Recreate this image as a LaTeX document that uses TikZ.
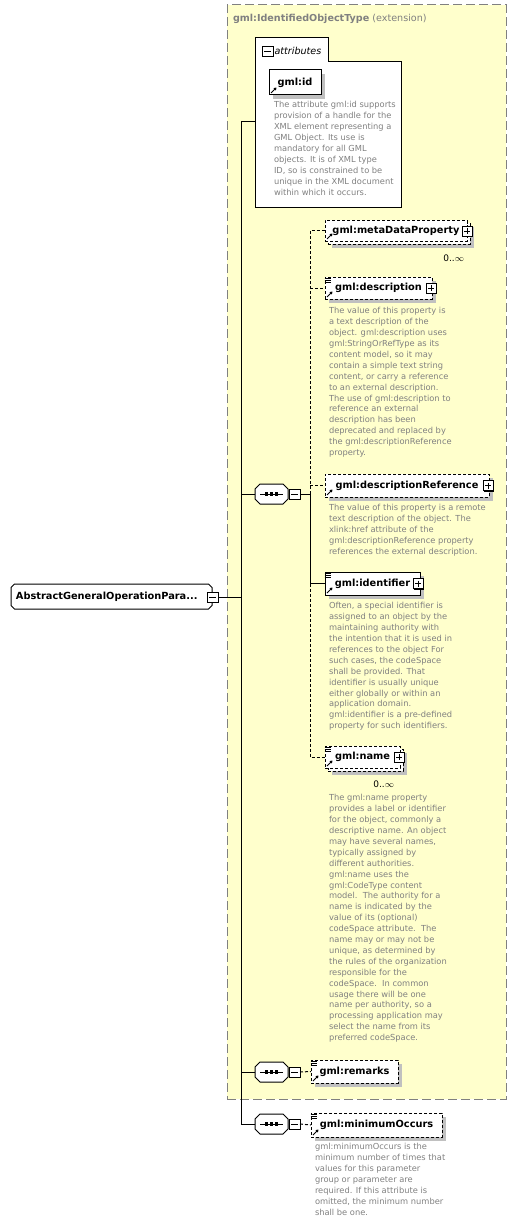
\documentclass[tikz,border=0pt]{standalone}
\usepackage{fontspec}
\setmainfont{DejaVu Sans}
\usetikzlibrary{shadows,arrows.meta}
\definecolor{extfill}{RGB}{255,255,204}
\definecolor{extline}{RGB}{128,128,128}
\definecolor{desctext}{RGB}{128,128,128}
\definecolor{shadowgray}{RGB}{192,192,192}
\newcommand\RefArrow[1]{\draw[line width=0.9pt,-{Triangle[length=2.6pt,width=3.2pt]}] ([shift={(2,-2)}]#1.south west) -- ([shift={(7.5,-7.5)}]#1.south west);}
\newcommand\EqIcon[1]{\foreach \d in {1.5,3.5,5.5}{\draw[line width=0.7pt] ([shift={(-0.5,\d)}]#1.north west) -- ([shift={(6,\d)}]#1.north west);}}
\newcommand\OctoPath[2]{([shift={(#2,0)}]#1.north west) -- ([shift={(-#2,0)}]#1.north east) -- ([shift={(0,#2)}]#1.north east) -- ([shift={(0,-#2)}]#1.south east) -- ([shift={(-#2,0)}]#1.south east) -- ([shift={(#2,0)}]#1.south west) -- ([shift={(0,-#2)}]#1.south west) -- ([shift={(0,#2)}]#1.north west) -- cycle}
\newcommand\OctoShape[2]{%
  \begin{scope}[shift={(4,4)}]\fill[shadowgray] \OctoPath{#1}{#2};\end{scope}
  \draw[fill=white] \OctoPath{#1}{#2};}
\newcommand\SeqInner[1]{%
  \draw ([xshift=-11.5pt]#1.center) -- ([xshift=11.5pt]#1.center);
  \foreach \d in {-5,0,5}{\fill ([xshift=\d pt]#1.center) +(-1.6,-1.6) rectangle +(1.6,1.6);}}
\begin{document}
\begin{tikzpicture}[x=1pt,y=-1pt,line width=1pt,
  every node/.style={inner sep=0pt,outer sep=0pt},
  shd/.style={drop shadow={shadow xshift=4pt,shadow yshift=-4pt,fill=shadowgray,opacity=1}},
  lbl/.style={font=\fontsize{9.8}{12}\selectfont\bfseries},
  elem/.style={draw,fill=white,rectangle,anchor=north west,lbl},
  optl/.style={dash pattern=on 3pt off 2pt},
  desc/.style={anchor=north west,align=left,text=desctext,font=\fontsize{8.3}{10.9}\selectfont},
  occ/.style={font=\fontsize{9}{11}\selectfont},
  pbox/.style={draw,fill=white,minimum width=10pt,minimum height=10pt,line width=0.9pt,
    drop shadow={shadow xshift=1.2pt,shadow yshift=-1.2pt,fill=black,opacity=1},
    path picture={\draw[line width=0.9pt] ([xshift=2pt]path picture bounding box.west) -- ([xshift=-2pt]path picture bounding box.east)
      ([yshift=-2pt]path picture bounding box.north) -- ([yshift=2pt]path picture bounding box.south);}},
  mbox/.style={draw,fill=white,minimum width=11pt,minimum height=10pt,line width=0.9pt,
    drop shadow={shadow xshift=1.2pt,shadow yshift=-1.2pt,fill=black,opacity=1},
    path picture={\draw[line width=0.9pt] ([xshift=2pt]path picture bounding box.west) -- ([xshift=-2pt]path picture bounding box.east);}},
  seqbox/.style={rectangle,minimum width=33pt,minimum height=20pt}
]
\useasboundingbox (0,0) rectangle (517,1225);

% extension container
\node[draw=extline,dash pattern=on 9pt off 4pt,fill=extfill,anchor=north west,minimum width=279pt,minimum height=1094pt] (ext) at (227,5) {};
\node[anchor=west,text=extline,font=\fontsize{9.6}{12}\selectfont] (exttitle) at (233,19) {\textbf{gml:IdentifiedObjectType} (extension)};

% attributes box
\draw[fill=white] (255,38) -- (328,38) -- (328,62) -- (401,62) -- (401,207) -- (255,207) -- cycle;
\node[anchor=north west,minimum width=146pt,minimum height=169pt] (attr) at (255,38) {};
\node[mbox,drop shadow={opacity=0}] (attrm) at (267.5,51) {};
\node[anchor=west,font=\fontsize{9.6}{12}\selectfont\itshape] (attrlbl) at (274.5,51) {attributes};
\node[elem,shd,minimum width=52pt,minimum height=25pt] (gid) at (269,70) {gml:id};
\RefArrow{gid}
\node[desc] (giddesc) at (274,101.5) {The attribute gml:id supports\\provision of a handle for the\\XML element representing a\\GML Object. Its use is\\mandatory for all GML\\objects. It is of XML type\\ID, so is constrained to be\\unique in the XML document\\within which it occurs.};

% root element
\node[rectangle,anchor=north west,minimum width=201pt,minimum height=25pt] (root) at (11,584) {};
\OctoShape{root}{3.5}
\node[anchor=west,lbl] (rootlbl) at ([xshift=5pt]root.west) {AbstractGeneralOperationPara...};
\node[mbox] (rootm) at (212.5,597) {};

% spine
\coordinate (spTop) at (241,122);
\coordinate (spBot) at (241,1124);
\draw (spTop) -- (spBot);
\draw (spTop) -- (spTop -| attr.west);
\draw (rootm.east) -- (rootm.east -| spTop);

% sequence 1
\node[seqbox] (seq1) at (271.5,494) {};
\OctoShape{seq1}{5}
\SeqInner{seq1}
\node[mbox] (seq1m) at (294.5,494) {};
\draw (seq1.west) -- (seq1.west -| spTop);
\coordinate (br) at (310,494);

% metaDataProperty
\node[elem,optl,shd,minimum width=142pt,minimum height=21pt] (metaback) at (328,223) {};
\node[elem,optl,minimum width=142pt,minimum height=21pt] (meta) at (325,220) {gml:metaDataProperty};
\RefArrow{meta}
\node[pbox] (metap) at (467,231) {};
\node[occ,anchor=east] (metaocc) at (464,258) {0..$\infty$};

% description
\node[elem,optl,shd,minimum width=107pt,minimum height=22pt] (descr) at (325,277) {gml:description};
\EqIcon{descr}
\RefArrow{descr}
\node[pbox] (descrp) at (431,288) {};
\node[desc] (descrdesc) at (329,307.5) {The value of this property is\\a text description of the\\object. gml:description uses\\gml:StringOrRefType as its\\content model, so it may\\contain a simple text string\\content, or carry a reference\\to an external description.\\The use of gml:description to\\reference an external\\description has been\\deprecated and replaced by\\the gml:descriptionReference\\property.};

% descriptionReference
\node[elem,optl,shd,minimum width=164pt,minimum height=23pt] (dref) at (325,474) {gml:descriptionReference};
\RefArrow{dref}
\node[pbox] (drefp) at (488,485.5) {};
\node[desc] (drefdesc) at (329,504.5) {The value of this property is a remote\\text description of the object. The\\xlink:href attribute of the\\gml:descriptionReference property\\references the external description.};

% identifier
\node[elem,shd,minimum width=95pt,minimum height=23pt] (ident) at (325,572) {gml:identifier};
\EqIcon{ident}
\RefArrow{ident}
\node[pbox] (identp) at (418,583.5) {};
\node[desc] (identdesc) at (329,602.5) {Often, a special identifier is\\assigned to an object by the\\maintaining authority with\\the intention that it is used in\\references to the object For\\such cases, the codeSpace\\shall be provided. That\\identifier is usually unique\\either globally or within an\\application domain.\\gml:identifier is a pre-defined\\property for such identifiers.};

% name
\node[elem,optl,shd,minimum width=75pt,minimum height=22pt] (nameback) at (328,749) {};
\node[elem,optl,minimum width=75pt,minimum height=22pt] (name) at (325,746) {gml:name};
\EqIcon{name}
\RefArrow{name}
\node[pbox] (namep) at (399,757) {};
\node[occ,anchor=east] (nameocc) at (394,784) {0..$\infty$};
\node[desc] (namedesc) at (329,794.5) {The gml:name property\\provides a label or identifier\\for the object, commonly a\\descriptive name. An object\\may have several names,\\typically assigned by\\different authorities.\\gml:name uses the\\gml:CodeType content\\model.\ \ The authority for a\\name is indicated by the\\value of its (optional)\\codeSpace attribute.\ \ The\\name may or may not be\\unique, as determined by\\the rules of the organization\\responsible for the\\codeSpace.\ \ In common\\usage there will be one\\name per authority, so a\\processing application may\\select the name from its\\preferred codeSpace.};

% branch connectors
\draw (seq1m.east) -- (br);
\draw[optl] (br) -- (br |- meta.west) -- (meta.west);
\draw[optl] (br |- descr.west) -- (descr.west);
\draw[optl] (br |- dref.west) -- (dref.west);
\draw (br) -- (br |- ident.west) -- (ident.west);
\draw[optl] (br |- ident.west) -- (br |- name.west) -- (name.west);

% sequence 2 : remarks
\node[seqbox] (seq2) at (271.5,1072) {};
\OctoShape{seq2}{5}
\SeqInner{seq2}
\node[mbox] (seq2m) at (294.5,1072) {};
\draw (seq2.west) -- (seq2.west -| spTop);
\node[elem,optl,shd,minimum width=87pt,minimum height=23pt] (rem) at (311,1060) {gml:remarks};
\EqIcon{rem}
\RefArrow{rem}
\draw[optl] (seq2m.east) -- (rem.west);

% sequence 3 : minimumOccurs
\node[seqbox] (seq3) at (271.5,1124) {};
\OctoShape{seq3}{5}
\SeqInner{seq3}
\node[mbox] (seq3m) at (294.5,1124) {};
\draw (seq3.west) -- (seq3.west -| spTop);
\node[elem,optl,shd,minimum width=131pt,minimum height=24pt] (minocc) at (311,1113) {gml:minimumOccurs};
\EqIcon{minocc}
\RefArrow{minocc}
\draw[optl] (seq3m.east) -- (minocc.west);
\node[desc] (minoccdesc) at (315,1143.5) {gml:minimumOccurs is the\\minimum number of times that\\values for this parameter\\group or parameter are\\required. If this attribute is\\omitted, the minimum number\\shall be one.};
\end{tikzpicture}
\end{document}
